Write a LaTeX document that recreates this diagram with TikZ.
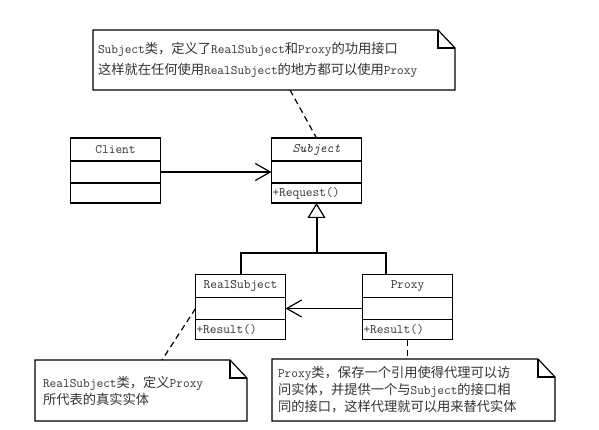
\documentclass[tikz,border=0pt]{standalone}
\usepackage{fontspec}
\newfontfamily\cjk[Scale=1.02]{Noto Sans CJK SC}
\newcommand{\zh}[1]{{\cjk #1}}
\usetikzlibrary{positioning,arrows.meta}

\tikzset{
  mono/.style={font=\ttfamily\fontsize{13}{17}\selectfont, text=black!80},
  clsname/.style={mono, draw, line width=1.2pt, outer sep=0pt, inner sep=0pt, minimum width=90pt, minimum height=23pt},
  clsattr/.style={draw, line width=1.2pt, outer sep=0pt, inner sep=0pt, minimum width=90pt, minimum height=22pt},
  clsop/.style={mono, draw, line width=1.2pt, outer sep=0pt, inner ysep=0pt, inner xsep=1pt, text width=88pt, align=left, minimum height=20pt},
  note/.style={mono, anchor=north west, outer sep=0pt, inner ysep=0pt, align=left},
  noteline/.style={line width=1.2pt},
  assoc/.style={line width=1.2pt, -{Straight Barb[length=15pt,width=17pt]}},
  gen/.style={line width=2pt},
  anchorline/.style={line width=1.2pt, dash pattern=on 6pt off 4pt}
}

\begin{document}
\begin{tikzpicture}[x=1pt,y=-1pt]
\fill [white] (0,0) rectangle (599,430);
\useasboundingbox (0,0) rectangle (599,430);
% classes
\node [clsname] (client) at (115.5,149.5) {Client};
\node [clsattr, below=0pt of client] (clientattr) {};
\node [clsop, below=0pt of clientattr] (clientop) {};
\node [clsname, font=\ttfamily\itshape\fontsize{13}{17}\selectfont] (subject) at (316.5,149.5) {Subject};
\node [clsattr, below=0pt of subject] (subjectattr) {};
\node [clsop, below=0pt of subjectattr] (subjectop) {+Request()};
\node [clsname] (real) at (240.5,286) {RealSubject};
\node [clsattr, below=0pt of real] (realattr) {};
\node [clsop, below=0pt of realattr] (realop) {+Result()};
\node [clsname] (proxy) at (407.5,286) {Proxy};
\node [clsattr, below=0pt of proxy] (proxyattr) {};
\node [clsop, below=0pt of proxyattr] (proxyop) {+Result()};
% notes
\node [note, font=\ttfamily\fontsize{13}{21}\selectfont, inner xsep=5pt, text width=352pt, minimum height=60pt] (subjectnote) at (93,30)
  {Subject\zh{类，定义了}RealSubject\zh{和}Proxy\zh{的功用接口}\\\zh{这样就在任何使用}RealSubject\zh{的地方都可以使用}Proxy};
\draw [noteline] (subjectnote.south west) -- (subjectnote.north west) -- ([xshift=-17pt]subjectnote.north east) -- ([yshift=-18pt]subjectnote.north east) -- (subjectnote.south east) -- cycle;
\draw [noteline] ([xshift=-17pt]subjectnote.north east) |- ([yshift=-18pt]subjectnote.north east);
\node [note, inner xsep=8pt, text width=196pt, minimum height=61pt] (realnote) at (35,360)
  {RealSubject\zh{类，定义}Proxy\\\zh{所代表的真实实体}};
\draw [noteline] (realnote.south west) -- (realnote.north west) -- ([xshift=-17pt]realnote.north east) -- ([yshift=-18pt]realnote.north east) -- (realnote.south east) -- cycle;
\draw [noteline] ([xshift=-17pt]realnote.north east) |- ([yshift=-18pt]realnote.north east);
\node [note, inner xsep=6pt, text width=271pt, minimum height=62pt] (proxynote) at (272,359)
  {Proxy\zh{类，保存一个引用使得代理可以访}\\\zh{问实体，并提供一个与}Subject\zh{的接口相}\\\zh{同的接口，这样代理就可以用来替代实体}};
\draw [noteline] (proxynote.south west) -- (proxynote.north west) -- ([xshift=-17pt]proxynote.north east) -- ([yshift=-18pt]proxynote.north east) -- (proxynote.south east) -- cycle;
\draw [noteline] ([xshift=-17pt]proxynote.north east) |- ([yshift=-18pt]proxynote.north east);
% connectors
\draw [assoc] (clientattr) -- (subjectattr);
\draw [assoc] (proxyattr) -- (realattr);
\coordinate (junction) at (316.5,253);
\draw [gen, -{Triangle[open,length=15pt,width=18pt,line width=1.2pt]}] (junction) -- (subjectop.south);
\draw [gen] (real.north) |- (junction) -| ([xshift=-22pt]proxy.north);
\draw [anchorline] ([xshift=16pt]subjectnote.south) -- (subject.north);
\draw [anchorline] (realattr.west) -- ([xshift=21pt]realnote.north);
\draw [anchorline] (proxyop.south) -- (proxyop.south |- proxynote.north);
\end{tikzpicture}
\end{document}
